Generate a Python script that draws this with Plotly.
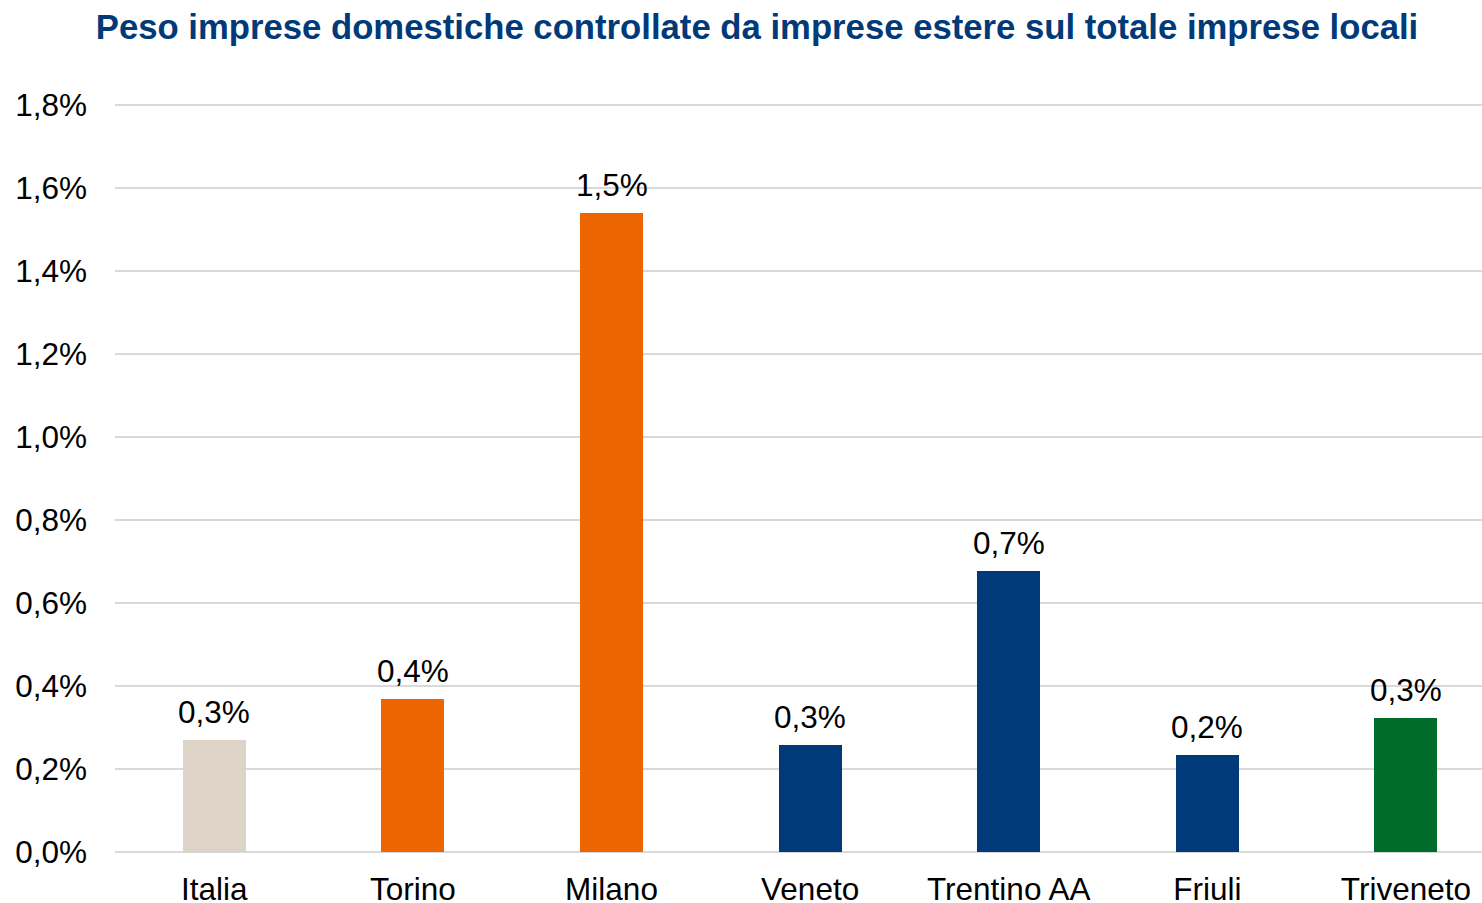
import plotly.graph_objects as go

categories = ["Italia", "Torino", "Milano", "Veneto", "Trentino AA", "Friuli", "Triveneto"]
values = [0.27, 0.369, 1.54, 0.258, 0.677, 0.234, 0.323]
colors = ["#DDD3C7", "#EC6500", "#EC6500", "#003A78", "#003A78", "#003A78", "#006C2A"]
y_ticks = [0.0, 0.2, 0.4, 0.6, 0.8, 1.0, 1.2, 1.4, 1.6, 1.8]
y_tick_labels = [f"{v:.1f}%".replace(".", ",") for v in y_ticks]

FONT = "Liberation Sans, Arial, sans-serif"
FS = 31.5

fig = go.Figure()
fig.add_trace(go.Bar(
    x=categories,
    y=values,
    marker=dict(color=colors, line=dict(width=0)),
    width=0.317,
    hoverinfo="skip",
))

for c, v in zip(categories, values):
    fig.add_annotation(
        x=c, y=v, text=f"{v:.1f}%".replace(".", ","),
        showarrow=False, yanchor="bottom", yshift=8,
        font=dict(family=FONT, size=FS, color="#000000"),
    )

fig.update_layout(
    width=1482, height=903,
    margin=dict(l=115, r=0, t=104, b=51),
    paper_bgcolor="white", plot_bgcolor="white",
    separators=",.",
    showlegend=False,
    bargap=0,
    title=dict(
        text="<b>Peso imprese domestiche controllate da imprese estere sul totale imprese locali</b>",
        x=757 / 1482, xref="container", xanchor="center",
        y=1 - 27 / 903, yref="container", yanchor="middle",
        font=dict(family=FONT, size=34.7, color="#003A78"),
    ),
    font=dict(family=FONT, size=FS, color="#000000"),
)

fig.update_xaxes(
    type="category",
    range=[-0.5, 6.383],
    automargin=False,
    showgrid=False, showline=False, zeroline=False,
    ticks="", ticklabelstandoff=15,
    tickfont=dict(family=FONT, size=FS, color="#000000"),
)

fig.update_yaxes(
    range=[0, 1.8025],
    automargin=False,
    tickmode="array", tickvals=y_ticks, ticktext=y_tick_labels,
    showgrid=True, gridcolor="#D9D9D9", gridwidth=2,
    zeroline=True, zerolinecolor="#D9D9D9", zerolinewidth=2,
    showline=False, ticks="",
    ticklabelstandoff=27,
    tickfont=dict(family=FONT, size=FS, color="#000000"),
)

fig.write_html(
    "out.html",
    config={"displayModeBar": False},
    post_script="document.body.style.margin='0';document.body.style.overflow='hidden';",
)
